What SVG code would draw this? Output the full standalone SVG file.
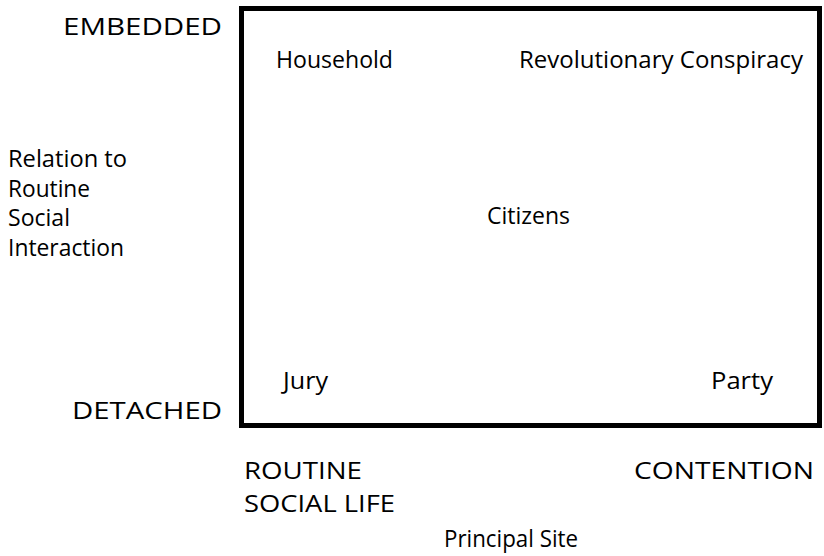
<svg xmlns="http://www.w3.org/2000/svg" width="824" height="556" viewBox="0 0 824 556">
<style>
text{font-family:"Open Sans","Liberation Sans",sans-serif;font-size:23px;fill:#000}
.frame{fill:none;stroke:#000;stroke-width:5}
</style>
<rect width="824" height="556" fill="#fff"/>
<g id="frame"><rect class="frame" x="241.5" y="8.5" width="578" height="417"/></g>
<g id="axis-y">
<text x="63" y="35" textLength="159" lengthAdjust="spacingAndGlyphs">EMBEDDED</text>
<text x="72" y="419" textLength="150" lengthAdjust="spacingAndGlyphs">DETACHED</text>
<text x="8" y="167" textLength="119" lengthAdjust="spacingAndGlyphs">Relation to</text>
<text x="8" y="197" textLength="82" lengthAdjust="spacingAndGlyphs">Routine</text>
<text x="8" y="226" textLength="62" lengthAdjust="spacingAndGlyphs">Social</text>
<text x="8" y="256" textLength="116" lengthAdjust="spacingAndGlyphs">Interaction</text>
</g>
<g id="household"><text x="276" y="68" textLength="117" lengthAdjust="spacingAndGlyphs">Household</text></g>
<g id="conspiracy"><text x="519" y="68" textLength="284" lengthAdjust="spacingAndGlyphs">Revolutionary Conspiracy</text></g>
<g id="citizens"><text x="487" y="224" textLength="83" lengthAdjust="spacingAndGlyphs">Citizens</text></g>
<g id="jury"><text x="283" y="389" textLength="45" lengthAdjust="spacingAndGlyphs">Jury</text></g>
<g id="party"><text x="711" y="389" textLength="62" lengthAdjust="spacingAndGlyphs">Party</text></g>
<g id="axis-x">
<text x="244" y="479" textLength="118" lengthAdjust="spacingAndGlyphs">ROUTINE</text>
<text x="244" y="512" textLength="151" lengthAdjust="spacingAndGlyphs">SOCIAL LIFE</text>
<text x="634" y="479" textLength="180" lengthAdjust="spacingAndGlyphs">CONTENTION</text>
<text x="444" y="547" textLength="134" lengthAdjust="spacingAndGlyphs">Principal Site</text>
</g>
</svg>
